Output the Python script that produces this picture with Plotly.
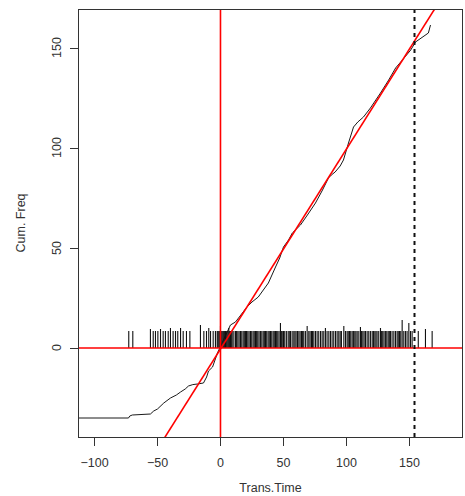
import plotly.graph_objects as go

# ---- data ----
curve_x = [-120, -73, -72, -70, -55.6, -53, -50, -45, -39.7, -35, -31.7, -28, -25.4, -22,
           -18.3, -13.5, -11, -9.5, -6.3, -2.4, 1.6, 5.5, 7.9, 11.9, 17.5, 21, 25, 30, 34,
           38, 43.7, 47, 50, 54, 57, 60, 63.5, 69, 72, 75.4, 81, 85.7, 88, 91, 95, 97.6,
           101.6, 105.6, 109, 113.5, 119, 123, 127, 133.5, 139, 144.4, 151, 154.8, 160,
           165, 166.7]
curve_y = [-35, -35, -34, -33.5, -33, -31.5, -30.5, -27.5, -25, -23.5, -22, -20.5, -19, -18.3,
           -18, -17.5, -14.5, -11.5, -9.5, -2.5, 3, 8, 11.5, 13, 17.5, 20.5, 23, 25.5, 29,
           32.5, 40.5, 45, 50.5, 54, 57.5, 59.5, 61.5, 66.5, 69.5, 72.5, 79, 85, 86.5, 88,
           91, 94, 102.5, 110.5, 113, 115.5, 120, 123.5, 127.5, 134, 140, 144, 149, 153,
           155.5, 157.5, 161.5]

rug_x = [-72.8, -69.6, -55.6, -53.4, -51.6, -49.7, -47.6, -45.5, -43.7, -41.5, -39.7, -37.6,
         -35.7, -33.9, -31.7, -29.6, -27.0, -24.3, -15.9, -13.2, -11.1, -9.3, -7.9, -5.8,
         -4.0, -2.6, -2.0, -1.3, -0.6, 0.0, 0.6, 1.3, 2.0, 2.6, 3.3, 4.0, 4.6, 5.3, 6.0,
         6.6, 7.3, 7.9, 8.6, 9.3, 10.6, 11.9, 12.8, 13.8, 14.8, 15.9, 16.9, 18.0, 18.9,
         19.8, 20.7, 21.7, 22.7, 23.8, 24.8, 25.9, 26.8, 27.8, 28.7, 29.6, 30.6, 31.7,
         32.8, 33.9, 34.8, 35.7, 36.7, 37.8, 38.7, 39.7, 40.7, 41.8, 42.7, 43.7, 44.6,
         45.5, 46.5, 47.6, 48.3, 49.0, 50.0, 51.0, 52.3, 53.7, 54.6, 55.6, 56.9, 58.2,
         59.1, 60.0, 61.1, 62.2, 63.2, 64.3, 65.2, 66.1, 67.4, 68.8, 70.1, 71.1, 72.2,
         73.1, 74.1, 75.4, 76.7, 78.0, 79.4, 80.7, 82.0, 83.3, 84.6, 86.0, 87.3, 88.6,
         89.9, 91.3, 92.6, 93.9, 95.0, 96.0, 97.9, 99.2, 100.5, 101.4, 102.4, 103.4,
         104.5, 105.5, 106.6, 107.5, 108.5, 109.8, 111.1, 112.0, 113.0, 114.0, 115.1,
         116.4, 117.7, 119.0, 120.4, 121.4, 122.5, 123.4, 124.3, 125.6, 127.0, 127.9,
         128.8, 129.8, 130.9, 132.0, 133.1, 134.0, 134.9, 136.2, 137.6, 138.9, 140.2,
         141.1, 142.1, 143.1, 144.2, 145.5, 146.8, 148.1, 149.5, 150.8, 152.1, 157.0,
         162.7, 168.0]
rug_default_height = 8.5
rug_tall = {-55.6: 9.5, -47.6: 9.5, -39.7: 10, -31.7: 10, -15.9: 11.5, -9.3: 10, 0.0: 11,
            6.6: 10, 47.6: 12.5, 68.8: 11, 83.3: 10, 97.9: 11, 111.1: 10.5, 127.0: 10,
            144.2: 14, 149.5: 12.5, 162.7: 9.5}

fit_intercept = -0.5
fit_slope = 1.0
vline_dashed = 154

x_ticks = [-100, -50, 0, 50, 100, 150]
y_ticks = [0, 50, 100, 150]
x_range = [-112.3, 191.7]
y_range = [-44.5, 169]

# ---- figure ----
fig = go.Figure()

fig.add_trace(go.Scatter(x=curve_x, y=curve_y, mode="lines",
                         line=dict(color="#1a1a1a", width=1), hoverinfo="skip"))

rx, ry = [], []
for xv in rug_x:
    rx += [xv, xv, None]
    ry += [0, rug_tall.get(xv, rug_default_height), None]
fig.add_trace(go.Scatter(x=rx, y=ry, mode="lines",
                         line=dict(color="#111111", width=1.1), hoverinfo="skip"))

# red reference lines
fx = [x_range[0] - 20, x_range[1] + 20]
fy = [fit_intercept + fit_slope * v for v in fx]
fig.add_trace(go.Scatter(x=fx, y=fy, mode="lines", line=dict(color="#ff0000", width=1.6),
                         hoverinfo="skip"))
fig.add_trace(go.Scatter(x=[0, 0], y=[y_range[0] - 20, y_range[1] + 20], mode="lines",
                         line=dict(color="#ff0000", width=1.6), hoverinfo="skip"))
fig.add_trace(go.Scatter(x=[x_range[0] - 20, x_range[1] + 20], y=[0, 0], mode="lines",
                         line=dict(color="#ff0000", width=1.6), hoverinfo="skip"))
fig.add_trace(go.Scatter(x=[vline_dashed, vline_dashed], y=[y_range[0] - 20, y_range[1] + 20],
                         mode="lines", line=dict(color="#111111", width=2, dash="4px,4px"),
                         hoverinfo="skip"))

axis_font = dict(family="Liberation Sans, Arial, sans-serif", size=12.5, color="#333333")
fig.update_layout(
    width=465, height=496,
    margin=dict(l=79, r=3, t=10, b=59),
    paper_bgcolor="white", plot_bgcolor="white",
    showlegend=False,
    font=axis_font,
)
fig.update_xaxes(range=x_range, tickvals=x_ticks, ticks="outside", ticklen=8, tickwidth=1,
                 tickcolor="#333333", showline=True, linecolor="#333333", linewidth=1,
                 mirror=True, showgrid=False, zeroline=False, tickfont=axis_font,
                 ticklabelstandoff=6,
                 title=dict(text="Trans.Time", font=axis_font, standoff=14))
fig.update_yaxes(range=y_range, tickvals=y_ticks, ticks="outside", ticklen=8, tickwidth=1,
                 tickcolor="#333333", showline=True, linecolor="#333333", linewidth=1,
                 mirror=True, showgrid=False, zeroline=False, showticklabels=False)

# y tick labels (rotated, R style) and y title
for v in y_ticks:
    fig.add_annotation(x=0, xref="paper", y=v, yref="y", text=str(v), showarrow=False,
                       textangle=-90, xanchor="center", yanchor="middle", xshift=-22,
                       font=axis_font)
fig.add_annotation(x=0, xref="paper", y=0.5, yref="paper", text="Cum. Freq", showarrow=False,
                   textangle=-90, xanchor="center", yanchor="middle", xshift=-59,
                   font=axis_font)

fig.write_html("out.html")
